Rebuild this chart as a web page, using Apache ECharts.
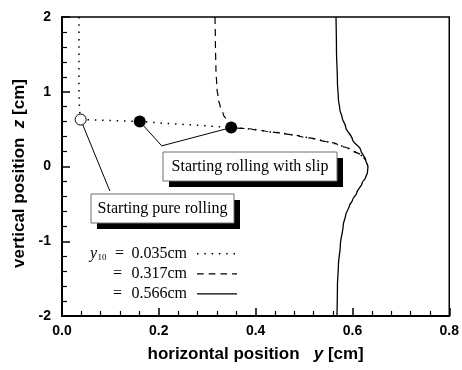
<!DOCTYPE html>
<html><head><meta charset="utf-8">
<script src="https://cdn.jsdelivr.net/npm/echarts@6/dist/echarts.min.js"></script>
<style>html,body{margin:0;padding:0;background:#fff}#c{width:462px;height:370px}</style>
</head><body><div id="c"></div>
<script>
// ---- data (horizontal position y [cm], vertical position z [cm]) ----
const xTickValues = [0, 0.2, 0.4, 0.6, 0.8];
const yTickValues = [-2, -1, 0, 1, 2];
const legendPrefix = 'y';
const legendSub = '10';
const legendLabels = ['0.035cm', '0.317cm', '0.566cm'];
const boxTexts = ['Starting rolling with slip', 'Starting pure rolling'];

// shared trajectory after the rolling-with-slip point
const sharedPath = [[0.3495,0.521],[0.393,0.500],[0.422,0.470],[0.455,0.445],[0.490,0.408],[0.531,0.357],[0.568,0.299],[0.599,0.222],[0.620,0.142],[0.628,0.088]];
const traj035 = [[0.035,2.0],[0.035,1.4],[0.035,1.0],[0.036,0.80],[0.037,0.70],[0.0385,0.628],[0.100,0.615],[0.1606,0.602],[0.2018,0.582],[0.270,0.556],[0.3495,0.521]];
const traj317 = [[0.316,2.0],[0.317,1.6],[0.318,1.3],[0.320,1.05],[0.323,0.90],[0.327,0.80],[0.333,0.70],[0.341,0.61],[0.3495,0.521]];
const traj566 = [[0.566,2.0],[0.567,1.56],[0.569,1.12],[0.571,0.90],[0.574,0.76],[0.579,0.65],[0.586,0.53],[0.600,0.36],[0.617,0.22],[0.627,0.09],[0.632,0.0],[0.631,-0.08],[0.627,-0.15],[0.620,-0.22],[0.609,-0.35],[0.600,-0.45],[0.594,-0.52],[0.586,-0.65],[0.581,-0.78],[0.575,-1.05],[0.571,-1.32],[0.569,-1.59],[0.568,-2.0]];
const pureRollingStart = [[0.0385,0.628]];
const slipStarts = [[0.1606,0.602],[0.3495,0.521]];
const leaderPure = [[0.0385,0.628],[0.0988,-0.327]];
const leaderSlip = [[0.1606,0.602],[0.206,0.276],[0.3495,0.521]];

// ---- chart ----
const chart = echarts.init(document.getElementById('c'));
const sans = 'Liberation Sans, Arial, sans-serif';
const serif = 'Liberation Serif, Times New Roman, serif';

function lineSeries(data, dash, width, z){
  return {type:'line', data:data, showSymbol:false, symbol:'none', z:z||2,
    lineStyle:{color:'#000', width:width, type:dash, cap:'butt'}, silent:true};
}
const rowY = [253.3, 273.3, 293.3];
const dashes = [[1.5,5.8],[6.7,5],'solid'];
const graphic = [];
// annotation boxes with drop shadow
const boxes = [
  {x:163, y:152, w:174, h:29, text:boxTexts[0]},
  {x:91, y:194, w:143, h:29, text:boxTexts[1]}
];
boxes.forEach(b=>{
  graphic.push({type:'rect', shape:{x:b.x+6,y:b.y+6,width:b.w,height:b.h}, style:{fill:'#000'}, z:10});
  graphic.push({type:'rect', shape:{x:b.x,y:b.y,width:b.w,height:b.h}, style:{fill:'#fff', stroke:'#6e6e6e', lineWidth:1}, z:11});
  graphic.push({type:'text', x:b.x+b.w/2, y:b.y+b.h/2+0.5, z:12, style:{text:b.text, font:'16px '+serif, fill:'#000', align:'center', verticalAlign:'middle'}});
});
// legend
graphic.push({type:'text', x:90, y:rowY[0], z:12, style:{text:legendPrefix, font:'italic 16px '+serif, fill:'#000', align:'left', verticalAlign:'middle'}});
graphic.push({type:'text', x:97.5, y:rowY[0]+4.5, z:12, style:{text:legendSub, font:'9px '+serif, fill:'#000', align:'left', verticalAlign:'middle'}});
legendLabels.forEach((t,i)=>{
  graphic.push({type:'text', x:i===0?115:113, y:rowY[i], z:12, style:{text:'=', font:'16px '+serif, fill:'#000', align:'left', verticalAlign:'middle'}});
  graphic.push({type:'text', x:187, y:rowY[i], z:12, style:{text:t, font:'16px '+serif, fill:'#000', align:'right', verticalAlign:'middle'}});
  graphic.push({type:'line', z:12, shape:{x1:197,y1:rowY[i]+0.5,x2:237,y2:rowY[i]+0.5},
    style:{stroke:'#000', lineWidth: i===0?1.5:1.2, lineDash: dashes[i]==='solid'?null:dashes[i], lineCap:'butt'}});
});

function axisCommon(){
  return {
    axisLine:{show:true, onZero:false, lineStyle:{color:'#000', width:2}},
    axisTick:{show:true, inside:true, length:8, lineStyle:{color:'#000', width:1.5}},
    minorTick:{show:true, splitNumber:5, length:5, lineStyle:{color:'#000', width:1.2}},
    splitLine:{show:false}, minorSplitLine:{show:false}
  };
}
const option = {
  animation:false,
  backgroundColor:'#fff',
  grid:{left:62, top:17, right:11, bottom:54, show:true, borderColor:'#000', borderWidth:1.5, backgroundColor:'transparent'},
  xAxis:Object.assign({type:'value', min:xTickValues[0], max:xTickValues[xTickValues.length-1], interval:0.2,
    name:'horizontal position   {i|y} [cm]', nameLocation:'middle', nameGap:30,
    nameTextStyle:{fontFamily:sans, fontWeight:'bold', fontSize:17, color:'#000', rich:{i:{fontFamily:sans, fontWeight:'bold', fontStyle:'italic', fontSize:17, color:'#000'}}},
    axisLabel:{margin:8, fontFamily:sans, fontWeight:'bold', fontSize:14, color:'#000', formatter:v=>v.toFixed(1)}
  }, axisCommon()),
  yAxis:Object.assign({type:'value', min:yTickValues[0], max:yTickValues[yTickValues.length-1], interval:1,
    name:'vertical position  {i|z} [cm]', nameLocation:'middle', nameGap:29, nameRotate:90,
    nameTextStyle:{fontFamily:sans, fontWeight:'bold', fontSize:17, color:'#000', padding:[0,14,0,0], rich:{i:{fontFamily:sans, fontWeight:'bold', fontStyle:'italic', fontSize:17, color:'#000'}}},
    axisLabel:{margin:11, fontFamily:sans, fontWeight:'bold', fontSize:14, color:'#000', formatter:v=>String(v)}
  }, axisCommon()),
  series:[
    lineSeries(traj035.concat(sharedPath.slice(1)), [1.5,5.8], 1.5, 3),
    Object.assign(lineSeries(traj317.concat(sharedPath.slice(1)), [7,5], 1.2, 3), {smooth:0.3, smoothMonotone:'y'}),
    Object.assign(lineSeries(traj566, 'solid', 1.3, 3), {smooth:0.3, smoothMonotone:'y'}),
    lineSeries(leaderPure, 'solid', 1, 4),
    lineSeries(leaderSlip, 'solid', 1, 4),
    {type:'scatter', data:pureRollingStart, symbol:'circle', symbolSize:11, z:6, silent:true,
      itemStyle:{color:'#fff', borderColor:'#000', borderWidth:1, opacity:1}},
    {type:'scatter', data:slipStarts, symbol:'circle', symbolSize:12, z:6, silent:true,
      itemStyle:{color:'#000', borderColor:'#000', borderWidth:0, opacity:1}}
  ],
  graphic:graphic
};
chart.setOption(option);
</script>
</body></html>
